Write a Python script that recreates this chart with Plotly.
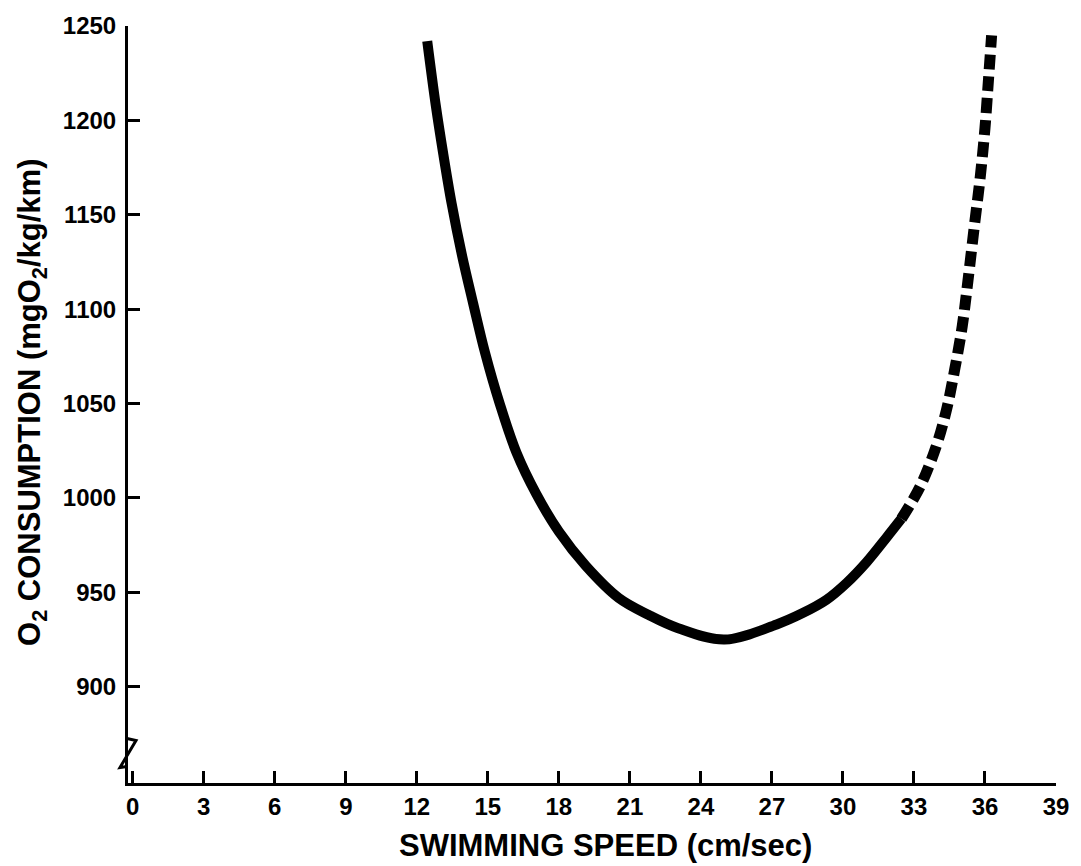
import plotly.graph_objects as go

# Swimming speed (cm/sec) vs. O2 consumption (mgO2/kg/km)
speed_solid = [12.44, 12.80, 13.12, 13.47, 13.90, 14.38, 14.88, 15.50, 16.21, 17.05,
               18.01, 19.14, 20.53, 21.8, 23.04, 25.0, 27.2, 28.3, 29.3, 30.16,
               31.0, 31.84, 32.47]
o2_solid = [1242, 1208, 1182, 1156, 1129, 1103, 1077, 1050, 1024, 1002,
            982, 964, 947, 938, 931, 925, 933, 939, 946, 955,
            966, 979, 989]

speed_dotted = [32.47, 33.26, 33.93, 34.38, 34.72, 35.04, 35.28, 35.56, 35.80, 36.0,
                36.15, 36.28]
o2_dotted = [989, 1006, 1027, 1047, 1068, 1091, 1115, 1145, 1170, 1196,
             1222, 1245]

x_ticks = list(range(0, 40, 3))
y_ticks = list(range(900, 1251, 50))

FONT = "Liberation Sans, Arial, sans-serif"

fig = go.Figure()
fig.add_trace(go.Scatter(
    x=speed_solid, y=o2_solid, mode="lines",
    line=dict(color="black", width=10, shape="spline", smoothing=1.0),
    cliponaxis=False, showlegend=False, hoverinfo="skip"))
fig.add_trace(go.Scatter(
    x=speed_dotted, y=o2_dotted, mode="lines",
    line=dict(color="black", width=11, shape="spline", smoothing=1.0, dash="15px,7px"),
    cliponaxis=False, showlegend=False, hoverinfo="skip"))

# axis break mark near the bottom of the y axis (pixel offsets from the axis)
fig.add_shape(type="path", xref="paper", yref="paper",
              xsizemode="pixel", ysizemode="pixel", xanchor=0, yanchor=0.039,
              path="M -1,15 L 8,13 L -8,-14 L -1,-13",
              line=dict(color="black", width=3))

fig.update_xaxes(
    range=[-0.2, 39], tickvals=x_ticks, ticktext=[str(v) for v in x_ticks],
    showline=True, linecolor="black", linewidth=3, mirror=False,
    ticks="inside", ticklen=12, tickwidth=2.5, tickcolor="black",
    showgrid=False, zeroline=False, ticklabelstandoff=0,
    tickfont=dict(family=FONT, size=24, color="black", weight="bold"))
fig.update_yaxes(
    range=[849, 1250], tickvals=y_ticks, ticktext=[str(v) for v in y_ticks],
    showline=True, linecolor="black", linewidth=3, mirror=False,
    ticks="inside", ticklen=12, tickwidth=2.5, tickcolor="black",
    showgrid=False, zeroline=False, ticklabelstandoff=4,
    tickfont=dict(family=FONT, size=24, color="black", weight="bold"))

fig.add_annotation(
    text="SWIMMING SPEED (cm/sec)", xref="paper", yref="paper",
    x=0.515, y=0, yshift=-62, xanchor="center", yanchor="middle", showarrow=False,
    font=dict(family=FONT, size=31, color="black", weight="bold"))
fig.add_annotation(
    text="O<sub>2</sub> CONSUMPTION (mgO<sub>2</sub>/kg/km)", xref="paper", yref="paper",
    x=0, xshift=-96, y=0.502, xanchor="center", yanchor="middle", textangle=-90,
    showarrow=False, font=dict(family=FONT, size=31, color="black", weight="bold"))

fig.update_layout(
    width=1081, height=866,
    margin=dict(l=128, r=17, t=20, b=83),
    paper_bgcolor="white", plot_bgcolor="white",
)

fig.write_html("out.html")
